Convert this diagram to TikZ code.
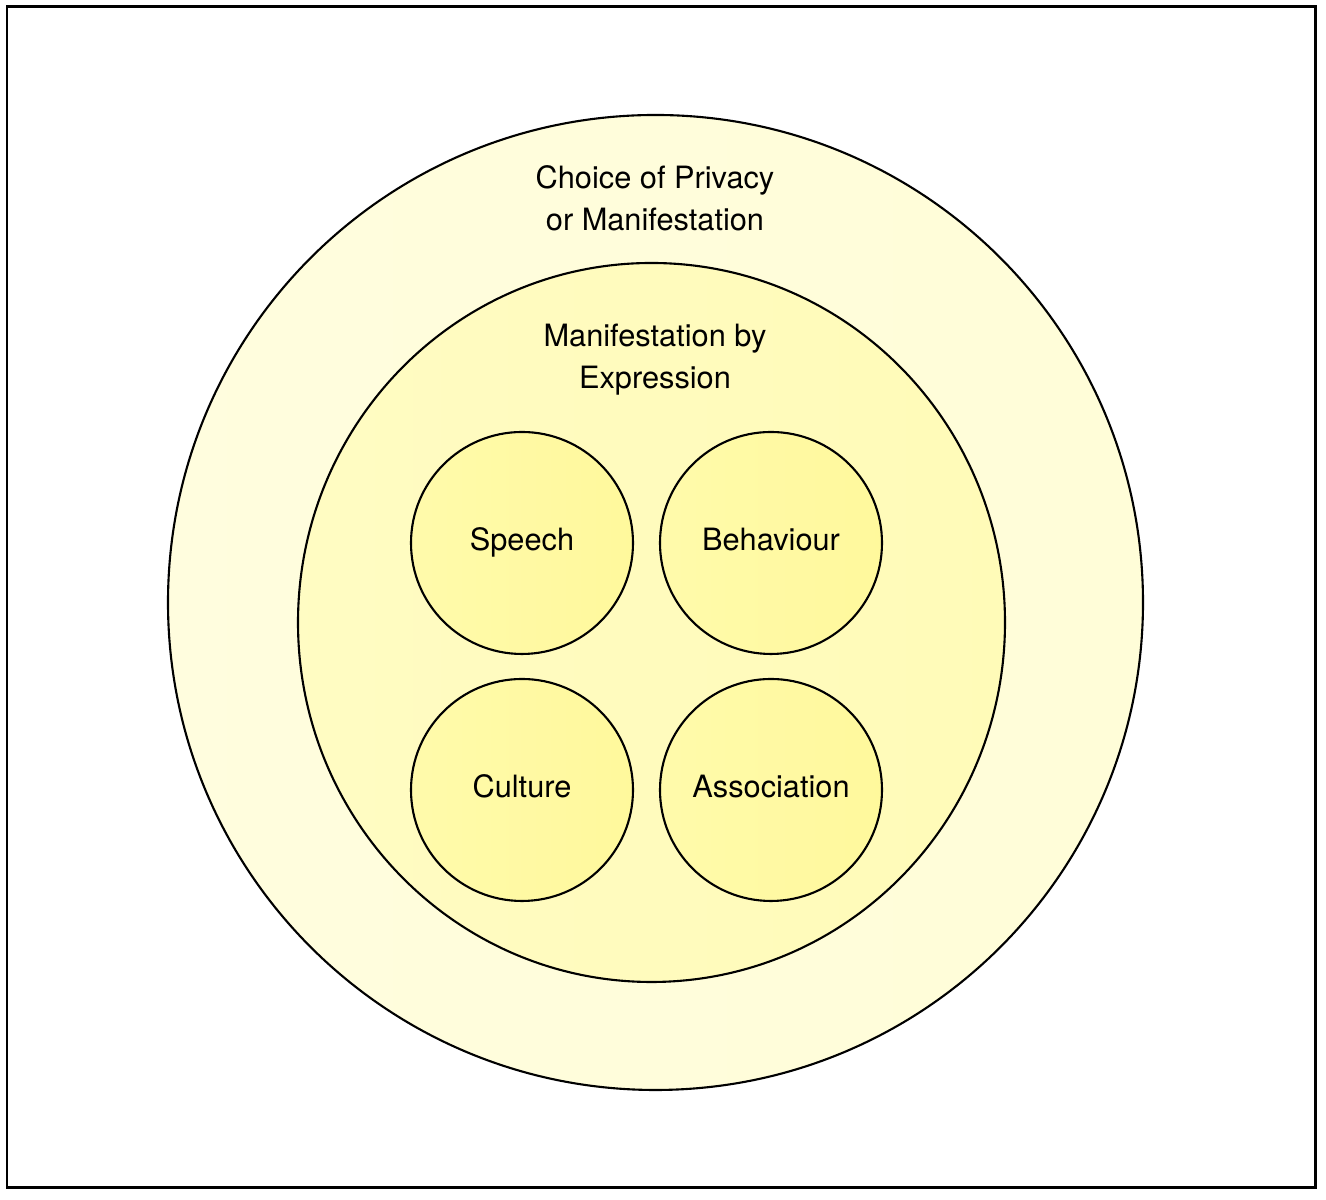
\documentclass[tikz,border=0pt]{standalone}
\usepackage{fontspec}
\setmainfont{TeX Gyre Heros}
\usepackage{tikz}
\usetikzlibrary{shapes,positioning}
\definecolor{outeryel}{HTML}{FFFDD8}
\definecolor{inneryel}{HTML}{FFFBB8}
\definecolor{smallyel}{HTML}{FFF99C}
\tikzset{ring/.style={draw,line width=1.2pt,inner sep=0pt},
  spot/.style={circle,draw,line width=1.2pt,minimum size=4.44cm,inner sep=0pt,text height=12pt,text depth=4pt,left color=smallyel!85!white,right color=smallyel,font=\fontsize{17.5}{24}\selectfont},
  caption/.style={align=center,font=\fontsize{17.5}{24}\selectfont}}

\begin{document}
\begin{tikzpicture}
        \useasboundingbox (0,0) rectangle (26.52,24);
        \node[draw,line width=1.7pt,minimum width=26.16cm,minimum height=23.62cm,inner sep=0pt] (frame) at (13.22,12.05) {};

        \node[ring,circle,minimum size=19.5cm,left color=outeryel!85!white,right color=outeryel] (choice) at (13.11,11.95) {};
        \node[ring,ellipse,minimum width=14.14cm,minimum height=14.38cm,left color=inneryel!85!white,right color=inneryel] (expr) at (13.03,11.55) {};

        \node[caption] (choicetxt) at (13.1,20.04) {Choice of Privacy\\or Manifestation};
        \node[caption] (exprtxt) at (13.1,16.8) {Manifestation by\\Expression};

        \node[spot] (a) at (10.44,13.14) {Speech};
        \node[spot] (b) at (15.42,13.14) {Behaviour};
        \node[spot] (c) at (10.44,8.2) {Culture};
        \node[spot] (d) at (15.42,8.2) {Association};
    \end{tikzpicture}
\end{document}
